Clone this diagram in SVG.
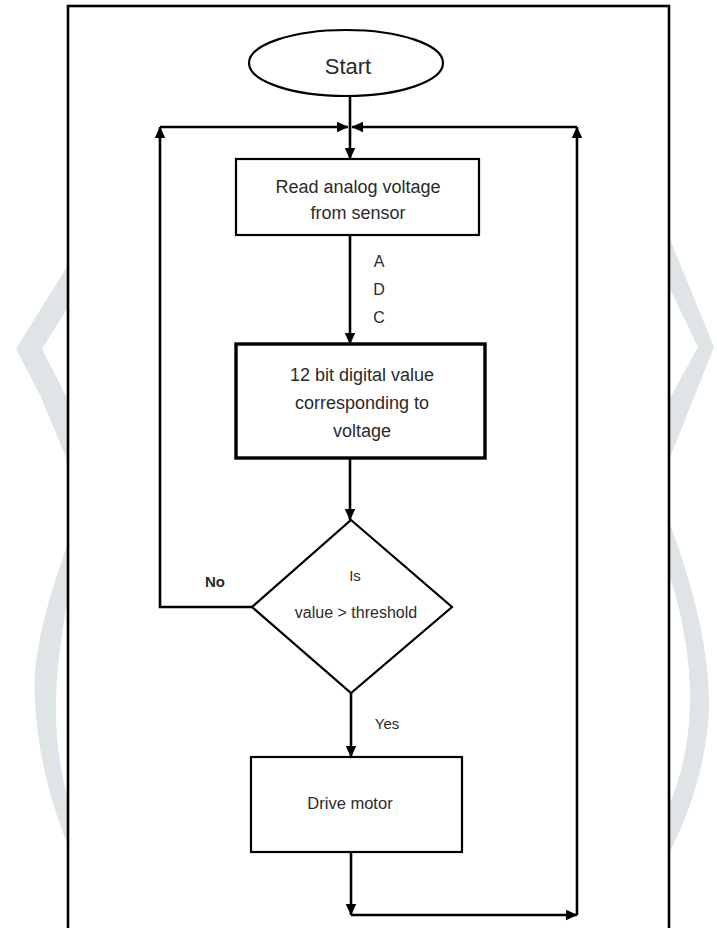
<svg xmlns="http://www.w3.org/2000/svg" width="717" height="928" viewBox="0 0 717 928">
  <style>
    .wm { fill: #dfe4e7; stroke: none; }
    .frame { fill: #ffffff; stroke: #000; stroke-width: 2.6; }
    .box { fill: #ffffff; stroke: #000; stroke-width: 2.2; }
    .thick { stroke-width: 3.4; }
    .conn { fill: none; stroke: #000; stroke-width: 2.6; }
    .t { font-family: "Liberation Sans", Arial, sans-serif; text-anchor: middle; fill: #2a2a2a; }
  </style>
  <defs>
    <marker id="arr" markerUnits="userSpaceOnUse" markerWidth="12" markerHeight="12" viewBox="0 0 10 10" refX="9.5" refY="5" orient="auto">
      <path d="M0,0.5 L10,5 L0,9.5 Z" fill="#000"/>
    </marker>
  </defs>

  <rect x="0" y="0" width="717" height="928" fill="#ffffff"/>

  <!-- watermark -->
  <g id="watermark">
    <polygon class="wm" points="68,265 16,349 40,395 68,462 68,400 42,349 68,307"/>
    <path class="wm" d="M68,543 C44,610 32,660 35,701 C38,760 54,812 68,845 L68,800 C60,770 55,735 56,700 C57,665 62,630 68,598 Z"/>
    <polygon class="wm" points="669,237 714,347 669,460 669,400 698,347 669,287"/>
    <path class="wm" d="M669,522 C695,590 708,650 709,697 C710,750 692,810 669,853 L669,805 C684,770 690,735 690,697 C690,660 682,610 669,575 Z"/>
  </g>

  <!-- outer frame -->
  <rect class="frame" x="68" y="6" width="601" height="940"/>

  <g id="connectors">
    <path class="conn" d="M350,96 L350,159" marker-end="url(#arr)"/>
    <path class="conn" d="M350,235 L350,344" marker-end="url(#arr)"/>
    <path class="conn" d="M350,458 L350,520" marker-end="url(#arr)"/>
    <path class="conn" d="M351,693 L351,757" marker-end="url(#arr)"/>
    <path class="conn" d="M351,852 L351,915" marker-end="url(#arr)"/>
    <path class="conn" d="M351,915 L577,915" marker-end="url(#arr)"/>
    <path class="conn" d="M577,915 L577,127" marker-end="url(#arr)"/>
    <path class="conn" d="M577,127 L352,127" marker-end="url(#arr)"/>
    <path class="conn" d="M252,607 L160,607 L160,127" marker-end="url(#arr)"/>
    <path class="conn" d="M160,127 L348,127" marker-end="url(#arr)"/>
    <g id="labels">
      <text class="t" x="379" y="267" font-size="16" fill="#333">A</text>
      <text class="t" x="379" y="295" font-size="16" fill="#333">D</text>
      <text class="t" x="379" y="323" font-size="16" fill="#333">C</text>
      <text class="t" x="215" y="587" font-size="15" font-weight="bold" fill="#333">No</text>
      <text class="t" x="387" y="729" font-size="15" fill="#333">Yes</text>
    </g>
  </g>

  <g id="start">
    <ellipse class="box" cx="346" cy="63" rx="97" ry="33"/>
    <text class="t" x="348" y="74" font-size="22">Start</text>
  </g>

  <g id="read">
    <rect class="box" x="236" y="159" width="243" height="76"/>
    <text class="t" x="358" y="193" font-size="18">Read analog voltage</text>
    <text class="t" x="358" y="219" font-size="18">from sensor</text>
  </g>

  <g id="digital">
    <rect class="box thick" x="236" y="344" width="249" height="114"/>
    <text class="t" x="362" y="381" font-size="18">12 bit digital value</text>
    <text class="t" x="362" y="409" font-size="18">corresponding to</text>
    <text class="t" x="362" y="437" font-size="18">voltage</text>
  </g>

  <g id="decision">
    <polygon class="box" points="351,520 452,607 351,693 252,607"/>
    <text class="t" x="355" y="581" font-size="15">Is</text>
    <text class="t" x="356" y="618" font-size="16">value &gt; threshold</text>
  </g>

  <g id="drive">
    <rect class="box" x="251" y="757" width="211" height="95" stroke-width="2.6"/>
    <text class="t" x="350" y="809" font-size="16.5" fill="#111">Drive motor</text>
  </g>
</svg>
